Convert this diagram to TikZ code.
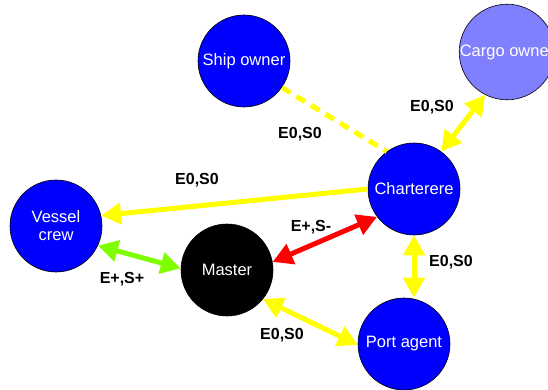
\documentclass[tikz,border=0pt]{standalone}
\usepackage{fontspec}
\setmainfont{Liberation Sans}
\usepackage{xcolor}
\usepackage{tikz}
\usetikzlibrary{arrows.meta}
\definecolor{partyblue}{HTML}{0000FF}
\definecolor{cargoblue}{HTML}{8080FF}
\definecolor{relyellow}{HTML}{FFFF00}
\definecolor{relgreen}{HTML}{80FF00}
\definecolor{relred}{HTML}{FF0000}
\tikzset{
  party/.style={circle, draw=black, line width=0.6pt, minimum size=92pt,
    inner sep=0pt, text=white, align=center,
    font=\fontsize{16.5}{18}\selectfont},
  rel/.style={line width=5pt, relyellow},
  tag/.style={font=\fontsize{16}{18}\selectfont\bfseries},
}

\begin{document}
\begin{tikzpicture}[x=1pt, y=-1pt, >={Triangle[length=20pt, width=21pt]}]
\useasboundingbox (0,0) rectangle (548,390);
\clip (0,0) rectangle (548,390);

%% === Parties ===
\node[party, fill=partyblue] (ship) at (244,61) {Ship owner};
\node[party, fill=cargoblue] (cargo) at (507,52) {Cargo owner};
\node[party, fill=partyblue] (chart) at (414,189) {Charterere};
\node[party, fill=partyblue] (crew) at (56,226) {Vessel\\crew};
\node[party, fill=black] (master) at (227,270) {Master};
\node[party, fill=partyblue] (port) at (404,344) {Port agent};

%% === Relations ===
% charterer links
\draw[rel, dash pattern=on 10pt off 7pt] (ship.-35) -- (chart.126);
\draw[rel, <->] (chart.54) -- (cargo.243);
\draw[rel, ->] (chart.180) -- (crew.13);
\draw[rel, <->] (chart.south) -- (chart.south |- port.north);
% master links
\draw[rel, relgreen, <->] (crew.-25) -- (master.178);
\draw[rel, relred, <->] (master.10) -- (chart.217);
\draw[rel, <->] (master.-39) -- (port.181);

% labels
\node[tag] (lship) at (300,134) {E0,S0};
\node[tag] (lcargo) at (432,107) {E0,S0};
\node[tag] (lcrew) at (197,180) {E0,S0};
\node[tag] (lred) at (311,227) {E+,S-};
\node[tag] (lgreen) at (122,279) {E+,S+};
\node[tag] (lport) at (451,262) {E0,S0};
\node[tag] (lmaster) at (282,335) {E0,S0};

\end{tikzpicture}
\end{document}
